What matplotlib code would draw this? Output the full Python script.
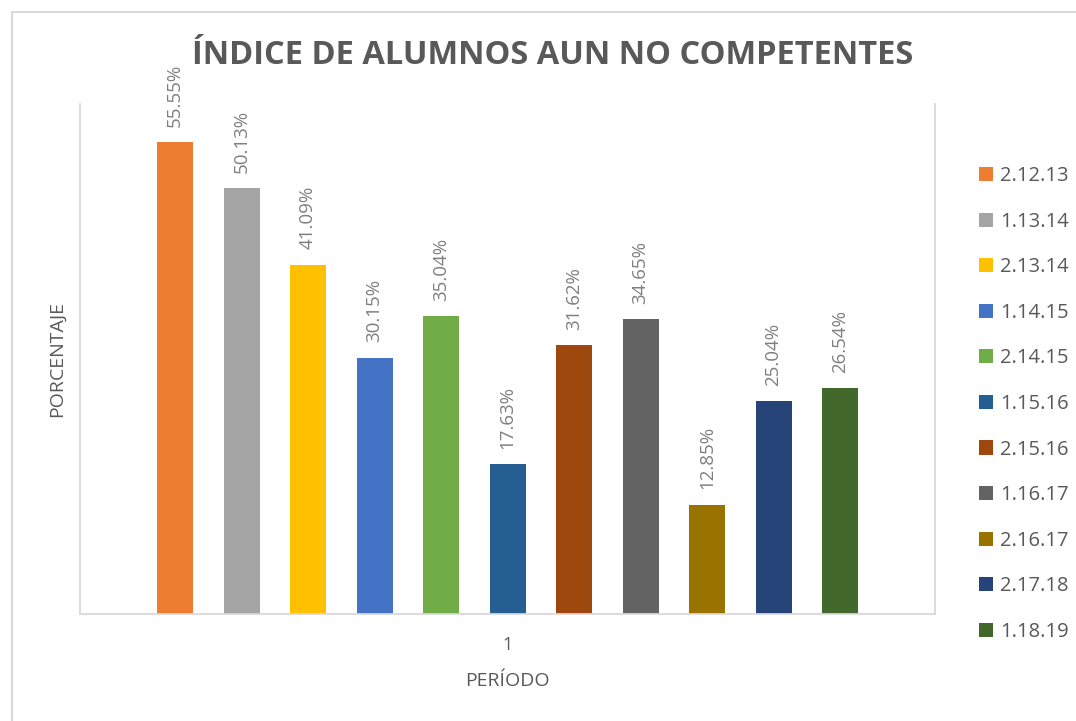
import matplotlib
matplotlib.use("Agg")
import matplotlib.pyplot as plt
from matplotlib.lines import Line2D

periods = ["2.12.13", "1.13.14", "2.13.14", "1.14.15", "2.14.15", "1.15.16",
           "2.15.16", "1.16.17", "2.16.17", "2.17.18", "1.18.19"]
values = [55.55, 50.13, 41.09, 30.15, 35.04, 17.63, 31.62, 34.65, 12.85, 25.04, 26.54]
colors = ["#ED7D31", "#A5A5A5", "#FFC000", "#4472C4", "#70AD47", "#255E91",
          "#9E480E", "#636363", "#997300", "#264478", "#43682B"]
category = "1"

plt.rcParams["font.family"] = ["Open Sans", "DejaVu Sans"]
TXT = "#595959"
GRID = "#D9D9D9"

fig = plt.figure(figsize=(10.76, 7.21), dpi=100)
ax = fig.add_axes([80 / 1076, 107 / 721, 855 / 1076, 510 / 721])

# outer chart frame (top + left edges visible)
fig.add_artist(Line2D([12 / 1076, 1], [1 - 12 / 721] * 2, transform=fig.transFigure,
                      color=GRID, lw=1.5))
fig.add_artist(Line2D([12 / 1076] * 2, [0, 1 - 12 / 721], transform=fig.transFigure,
                      color=GRID, lw=1.5))

slot = 66.5 / 855
width = 36 / 855
n = len(values)
for i, (lab, v, c) in enumerate(zip(periods, values, colors)):
    x = (i - (n - 1) / 2) * slot
    ax.bar(x, v, width=width, color=c, label=lab, zorder=2)
    ax.annotate(f"{v:.2f}%", (x, v), xytext=(0, 11), textcoords="offset points",
                rotation=90, ha="center", va="bottom", fontsize=13.5, color="#7F7F7F")

ax.set_xlim(-0.5, 0.5)
ax.set_ylim(0, 60)
ax.set_yticks([])
ax.set_xticks([0])
ax.set_xticklabels([category], fontsize=13, color=TXT)
ax.tick_params(axis="x", length=0, pad=16)
for s in ["left", "right", "bottom"]:
    ax.spines[s].set_color(GRID)
    ax.spines[s].set_linewidth(1.3)
ax.spines["top"].set_visible(False)

ax.set_xlabel("PERÍODO", fontsize=14, color=TXT, labelpad=13)
ax.set_ylabel("PORCENTAJE", fontsize=14, color=TXT, labelpad=10)

fig.text(553 / 1076, 1 - 55 / 721, "ÍNDICE DE ALUMNOS AUN NO COMPETENTES",
         ha="center", va="center", fontsize=23.5, fontweight="bold", color=TXT)

fig.legend(loc="upper left", bbox_to_anchor=(961 / 1076, 1 - 148 / 721),
           frameon=False, fontsize=14.5, labelcolor=TXT, handlelength=0.7,
           handleheight=0.7, handletextpad=0.35, labelspacing=1.27)

fig.savefig("out.png", dpi=100)
